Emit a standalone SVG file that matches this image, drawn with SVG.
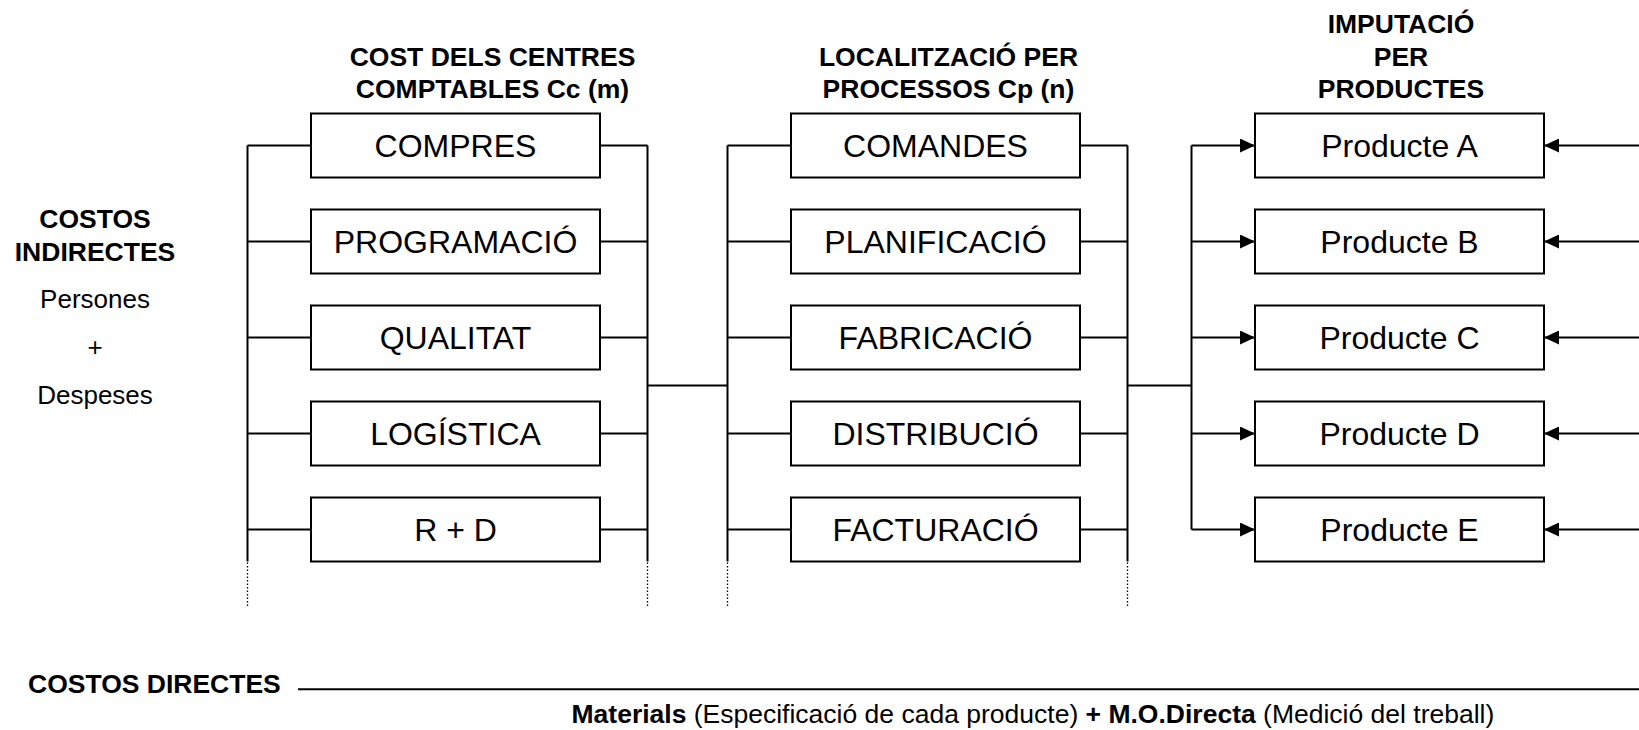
<svg xmlns="http://www.w3.org/2000/svg" width="1639" height="730" viewBox="0 0 1639 730">
<style>
.ln{stroke:#000;stroke-width:2;fill:none}
.dot{stroke:#000;stroke-width:1.3;stroke-dasharray:1.5 2;fill:none}
.box{fill:#fff;stroke:#000;stroke-width:2}
.lbl{font-family:"Liberation Sans",Arial,sans-serif;font-size:32px;text-anchor:middle;fill:#000}
.hdr{font-family:"Liberation Sans",Arial,sans-serif;font-size:26.5px;font-weight:bold;text-anchor:middle;fill:#000}
.txt{font-family:"Liberation Sans",Arial,sans-serif;font-size:26px;fill:#000}
.big{font-size:26.5px}
.b{font-weight:bold}
</style>
<defs>
<marker id="ah" markerUnits="userSpaceOnUse" markerWidth="16" markerHeight="14" refX="15" refY="7" orient="auto">
<path d="M0,0 L15,7 L0,14 Z" fill="#000"/>
</marker>
</defs>
<rect width="1639" height="730" fill="#fff"/>

<g id="headers">
<text class="hdr" x="492.5" y="65.7">COST DELS CENTRES</text>
<text class="hdr" x="492.5" y="98.3">COMPTABLES Cc (m)</text>
<text class="hdr" x="948.5" y="65.7">LOCALITZACIÓ PER</text>
<text class="hdr" x="948.5" y="98.3">PROCESSOS Cp (n)</text>
<text class="hdr" x="1401" y="33.3">IMPUTACIÓ</text>
<text class="hdr" x="1401" y="65.7">PER</text>
<text class="hdr" x="1401" y="98.3">PRODUCTES</text>
</g>

<g id="costos-indirectes">
<text class="txt b big" x="95" y="228" text-anchor="middle">COSTOS</text>
<text class="txt b big" x="95" y="261" text-anchor="middle">INDIRECTES</text>
<text class="txt" x="95" y="308" text-anchor="middle">Persones</text>
<text class="txt" x="95" y="356" text-anchor="middle">+</text>
<text class="txt" x="95" y="404" text-anchor="middle">Despeses</text>
</g>

<g id="connectors">
<path class="ln" d="M247.5,145.5 V561.5"/>
<path class="dot" d="M247.5,562.5 V606"/>
<path class="ln" d="M247.5,145.5 H311 M247.5,241.5 H311 M247.5,337.5 H311 M247.5,433.5 H311 M247.5,529.5 H311"/>
<path class="ln" d="M600,145.5 H647.5 M600,241.5 H647.5 M600,337.5 H647.5 M600,433.5 H647.5 M600,529.5 H647.5"/>
<path class="ln" d="M647.5,145.5 V561.5"/>
<path class="dot" d="M647.5,562.5 V606"/>
<path class="ln" d="M647.5,385.5 H727.5"/>
<path class="ln" d="M727.5,145.5 V561.5"/>
<path class="dot" d="M727.5,562.5 V606"/>
<path class="ln" d="M727.5,145.5 H791 M727.5,241.5 H791 M727.5,337.5 H791 M727.5,433.5 H791 M727.5,529.5 H791"/>
<path class="ln" d="M1080,145.5 H1127.5 M1080,241.5 H1127.5 M1080,337.5 H1127.5 M1080,433.5 H1127.5 M1080,529.5 H1127.5"/>
<path class="ln" d="M1127.5,145.5 V561.5"/>
<path class="dot" d="M1127.5,562.5 V606"/>
<path class="ln" d="M1127.5,385.5 H1191.5"/>
<path class="ln" d="M1191.5,145.5 V529.5"/>
<path class="ln" marker-end="url(#ah)" d="M1191.5,145.5 H1255"/>
<path class="ln" marker-end="url(#ah)" d="M1191.5,241.5 H1255"/>
<path class="ln" marker-end="url(#ah)" d="M1191.5,337.5 H1255"/>
<path class="ln" marker-end="url(#ah)" d="M1191.5,433.5 H1255"/>
<path class="ln" marker-end="url(#ah)" d="M1191.5,529.5 H1255"/>
<path class="ln" marker-end="url(#ah)" d="M1639,145.5 H1544"/>
<path class="ln" marker-end="url(#ah)" d="M1639,241.5 H1544"/>
<path class="ln" marker-end="url(#ah)" d="M1639,337.5 H1544"/>
<path class="ln" marker-end="url(#ah)" d="M1639,433.5 H1544"/>
<path class="ln" marker-end="url(#ah)" d="M1639,529.5 H1544"/>
<path class="ln" d="M298,689.3 H1639"/>
</g>

<g id="compres"><rect class="box" x="311" y="113.5" width="289" height="64"/><text class="lbl" x="455.5" y="157">COMPRES</text></g>
<g id="programacio"><rect class="box" x="311" y="209.5" width="289" height="64"/><text class="lbl" x="455.5" y="253">PROGRAMACIÓ</text></g>
<g id="qualitat"><rect class="box" x="311" y="305.5" width="289" height="64"/><text class="lbl" x="455.5" y="349">QUALITAT</text></g>
<g id="logistica"><rect class="box" x="311" y="401.5" width="289" height="64"/><text class="lbl" x="455.5" y="445">LOGÍSTICA</text></g>
<g id="rd"><rect class="box" x="311" y="497.5" width="289" height="64"/><text class="lbl" x="455.5" y="541">R + D</text></g>

<g id="comandes"><rect class="box" x="791" y="113.5" width="289" height="64"/><text class="lbl" x="935.5" y="157">COMANDES</text></g>
<g id="planificacio"><rect class="box" x="791" y="209.5" width="289" height="64"/><text class="lbl" x="935.5" y="253">PLANIFICACIÓ</text></g>
<g id="fabricacio"><rect class="box" x="791" y="305.5" width="289" height="64"/><text class="lbl" x="935.5" y="349">FABRICACIÓ</text></g>
<g id="distribucio"><rect class="box" x="791" y="401.5" width="289" height="64"/><text class="lbl" x="935.5" y="445">DISTRIBUCIÓ</text></g>
<g id="facturacio"><rect class="box" x="791" y="497.5" width="289" height="64"/><text class="lbl" x="935.5" y="541">FACTURACIÓ</text></g>

<g id="producte-a"><rect class="box" x="1255" y="113.5" width="289" height="64"/><text class="lbl" x="1399.5" y="157">Producte A</text></g>
<g id="producte-b"><rect class="box" x="1255" y="209.5" width="289" height="64"/><text class="lbl" x="1399.5" y="253">Producte B</text></g>
<g id="producte-c"><rect class="box" x="1255" y="305.5" width="289" height="64"/><text class="lbl" x="1399.5" y="349">Producte C</text></g>
<g id="producte-d"><rect class="box" x="1255" y="401.5" width="289" height="64"/><text class="lbl" x="1399.5" y="445">Producte D</text></g>
<g id="producte-e"><rect class="box" x="1255" y="497.5" width="289" height="64"/><text class="lbl" x="1399.5" y="541">Producte E</text></g>

<g id="costos-directes">
<text class="txt b big" x="28" y="693">COSTOS DIRECTES</text>
<text class="txt big" x="571.5" y="723"><tspan class="b">Materials</tspan> (Especificació de cada producte) <tspan class="b">+</tspan> <tspan class="b">M.O.Directa</tspan> (Medició del treball)</text>
</g>
</svg>
